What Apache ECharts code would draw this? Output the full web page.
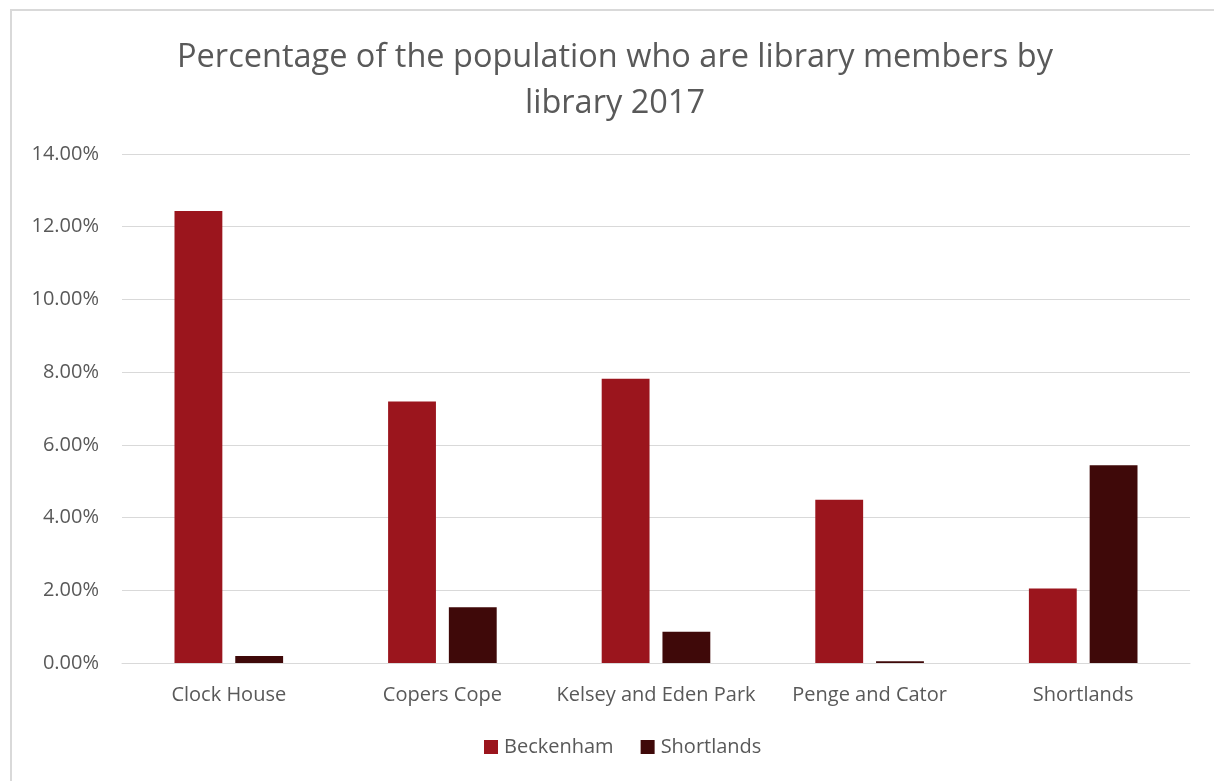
<!DOCTYPE html>
<html>
<head>
<meta charset="utf-8">
<script src="https://cdn.jsdelivr.net/npm/echarts@6/dist/echarts.min.js"></script>
<style>
  html, body { margin: 0; padding: 0; background: #ffffff; }
  #chart { width: 1214px; height: 781px; }
</style>
</head>
<body>
<div id="chart"></div>
<script>
// Library catchment areas (x axis)
const categories = ['Clock House', 'Copers Cope', 'Kelsey and Eden Park', 'Penge and Cator', 'Shortlands'];
// Share of each area's population holding membership, in percent
const beckenham = [12.43, 7.19, 7.82, 4.49, 2.05];
const shortlands = [0.19, 1.53, 0.86, 0.05, 5.44];
const seriesNames = ['Beckenham', 'Shortlands'];
const titleText = 'Percentage of the population who are library members by\nlibrary 2017';

const textColor = '#595959';
const gridColor = '#d9d9d9';
const font = '"Open Sans", "Liberation Sans", sans-serif';

const chart = echarts.init(document.getElementById('chart'), null, { renderer: 'canvas' });
chart.setOption({
  animation: false,
  backgroundColor: '#ffffff',
  textStyle: { fontFamily: font },
  graphic: [{
    type: 'polyline',
    shape: { points: [[11, 800], [11, 10], [1240, 10]] },
    style: { stroke: gridColor, lineWidth: 2, fill: null },
    silent: true
  }],
  title: {
    text: titleText,
    left: 610,
    textAlign: 'center',
    top: 30,
    textStyle: {
      fontFamily: font,
      fontSize: 32.5,
      fontWeight: 'normal',
      color: textColor,
      lineHeight: 46
    }
  },
  legend: {
    data: seriesNames,
    left: 479,
    top: 732,
    itemWidth: 14,
    itemHeight: 14,
    itemGap: 27,
    icon: 'rect',
    textStyle: { fontFamily: font, fontSize: 20, color: textColor, padding: [0, 0, 0, 1] }
  },
  grid: { left: 122, right: 24, top: 154, bottom: 118, containLabel: false },
  xAxis: {
    type: 'category',
    data: categories,
    axisLine: { show: true, lineStyle: { color: gridColor, width: 1 } },
    axisTick: { show: false },
    axisLabel: { interval: 0, color: textColor, fontSize: 20, margin: 22, fontFamily: font }
  },
  yAxis: {
    type: 'value',
    min: 0,
    max: 14,
    interval: 2,
    axisLine: { show: false },
    axisTick: { show: false },
    splitLine: { lineStyle: { color: gridColor, width: 1 } },
    axisLabel: {
      color: textColor,
      fontSize: 20,
      margin: 23,
      fontFamily: font,
      formatter: v => v.toFixed(2) + '%'
    }
  },
  series: [
    {
      name: seriesNames[0],
      type: 'bar',
      data: beckenham,
      barWidth: '22.4%',
      barGap: '27%',
      itemStyle: { color: '#9b151d' }
    },
    {
      name: seriesNames[1],
      type: 'bar',
      data: shortlands,
      barWidth: '22.4%',
      itemStyle: { color: '#3f0909' }
    }
  ]
});
</script>
</body>
</html>
